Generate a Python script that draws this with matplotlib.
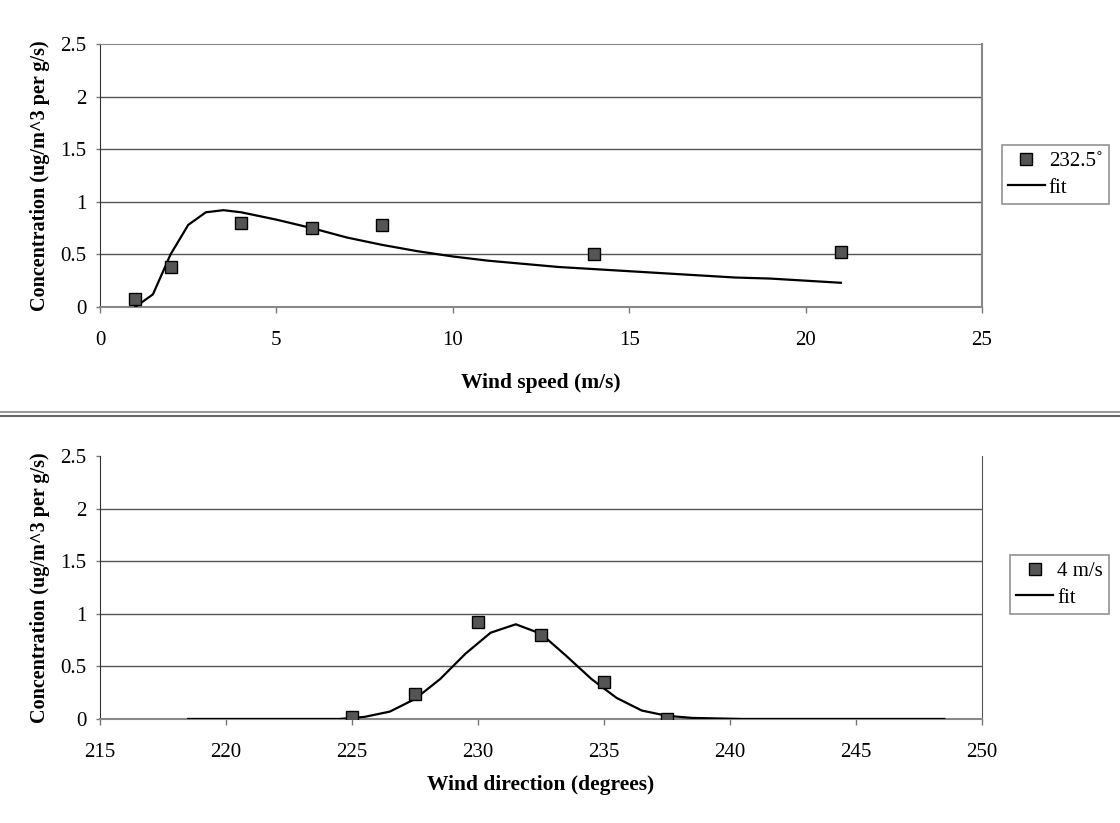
import numpy as np
import matplotlib
matplotlib.use('Agg')
import matplotlib.pyplot as plt
from matplotlib.lines import Line2D

plt.rcParams['font.family'] = ['Liberation Serif', 'DejaVu Serif']

# wind speed panel
speed_pts = [1, 2, 4, 6, 8, 14, 21]
speed_conc = [0.08, 0.38, 0.80, 0.75, 0.78, 0.50, 0.52]
speed_fit_x = [1, 1.5, 2, 2.5, 3, 3.5, 4, 5, 6, 7, 8, 9, 10, 11, 12, 13, 14,
               15, 16, 17, 18, 19, 20, 21]
speed_fit_y = [0.0, 0.12, 0.50, 0.78, 0.90, 0.92, 0.90, 0.83, 0.75, 0.66, 0.59,
               0.53, 0.48, 0.44, 0.41, 0.38, 0.36, 0.34, 0.32, 0.30, 0.28, 0.27,
               0.25, 0.23]

# wind direction panel
dir_pts = [225, 227.5, 230, 232.5, 235, 237.5]
dir_conc = [0.02, 0.24, 0.92, 0.80, 0.35, 0.0]
dir_fit_x = [218.5, 220.5, 222.5, 224.5, 225.5, 226.5, 227.5, 228.5, 229.5,
             230.5, 231.5, 232.5, 233.5, 234.5, 235.5, 236.5, 237.5, 238.5,
             240.5, 242.5, 244.5, 246.5, 248.5]
dir_fit_y = [0.0, 0.0, 0.0, 0.0, 0.02, 0.07, 0.19, 0.38, 0.62, 0.82, 0.90,
             0.81, 0.60, 0.38, 0.20, 0.08, 0.03, 0.01, 0.0, 0.0, 0.0, 0.0, 0.0]

yticks = [0, 0.5, 1, 1.5, 2, 2.5]
ylabel = 'Concentration (ug/m^3 per g/s)'

fig = plt.figure(figsize=(11.2, 8.23), dpi=100)
ax1 = fig.add_axes([0.0893, 0.627, 0.7875, 0.3196])
ax2 = fig.add_axes([0.0893, 0.1264, 0.7875, 0.3196])


def style(ax, xlim, xticks, xlabel, top_frame, xpad):
    ax.set_xlim(*xlim)
    ax.set_ylim(0, 2.5)
    ax.set_xticks(xticks)
    ax.set_yticks(yticks)
    ax.set_yticklabels(['0', '0.5', '1', '1.5', '2', '2.5'])
    ax.tick_params(labelsize=15, width=1, color='#777777')
    ax.tick_params(axis='y', length=3, pad=7)
    ax.tick_params(axis='x', length=4.5, pad=13)
    for y in [0.5, 1, 1.5, 2]:
        ax.axhline(y, color='#555555', lw=1, zorder=0)
    ax.spines['left'].set_color('#333333')
    ax.spines['bottom'].set_color('#888888')
    ax.spines['bottom'].set_linewidth(1.5)
    if top_frame:
        ax.spines['top'].set_color('#888888')
        ax.spines['right'].set_color('#888888')
        ax.spines['right'].set_linewidth(1.5)
    else:
        ax.spines['top'].set_visible(False)
        ax.spines['right'].set_color('#555555')
    ax.set_ylabel(ylabel, fontsize=14.5, fontweight='bold', labelpad=7)
    ax.set_xlabel(xlabel, fontsize=15.5, fontweight='bold', labelpad=xpad)


ax1.plot(speed_fit_x, speed_fit_y, color='black', lw=1.6, label='fit', zorder=3)
ax1.plot(speed_pts, speed_conc, ls='none', marker='s', ms=8, mfc='#555555',
         mec='black', mew=1, label='232.5˚', zorder=4)
style(ax1, (0, 25), [0, 5, 10, 15, 20, 25], 'Wind speed (m/s)', True, 16)

ax2.plot(dir_fit_x, dir_fit_y, color='black', lw=1.6, label='fit', zorder=3)
ax2.plot(dir_pts, dir_conc, ls='none', marker='s', ms=8, mfc='#555555',
         mec='black', mew=1, label='4 m/s', zorder=4)
style(ax2, (215, 250), [215, 220, 225, 230, 235, 240, 245, 250],
      'Wind direction (degrees)', False, 9)

for ax, top in [(ax1, 145), (ax2, 555)]:
    h, l = ax.get_legend_handles_labels()
    leg = fig.legend(h[::-1], l[::-1], loc='upper right',
                     bbox_to_anchor=(1109 / 1120, 1 - top / 823),
                     fontsize=15, frameon=True, fancybox=False,
                     edgecolor='#777777', handlelength=1.75, borderpad=0.3,
                     labelspacing=0.35, handletextpad=0.2, borderaxespad=0)
    leg.get_frame().set_linewidth(1.2)

# double separator line between the two panels
fig.add_artist(Line2D([0, 1], [1 - 411.5 / 823, 1 - 411.5 / 823],
                      color='#999999', lw=1.5))
fig.add_artist(Line2D([0, 1], [1 - 415.5 / 823, 1 - 415.5 / 823],
                      color='#666666', lw=1.5))

fig.savefig('out.png', dpi=100)
